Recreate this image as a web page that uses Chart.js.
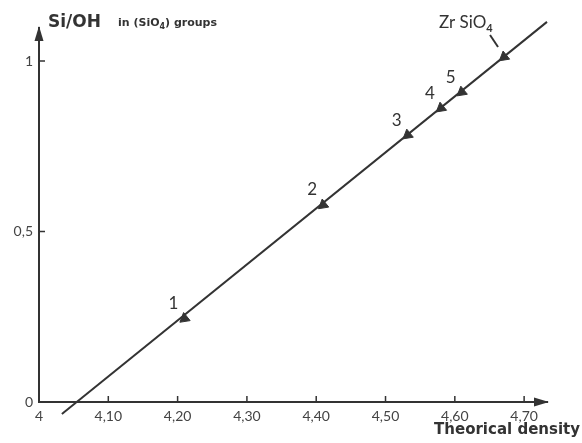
<!DOCTYPE html>
<html>
<head>
<meta charset="utf-8">
<script src="https://cdn.jsdelivr.net/npm/chart.js@4.4.1/dist/chart.umd.min.js"></script>
<style>
  html, body { margin: 0; padding: 0; background: #fff; }
  #wrap { width: 582px; height: 443px; }
</style>
</head>
<body>
<div id="wrap"><canvas id="myChart" width="582" height="443"></canvas></div>
<script>
// values
const densities = [4.21, 4.41, 4.532, 4.58, 4.61, 4.671];
const ratios = [0.245, 0.578, 0.783, 0.862, 0.909, 1.012];
const pointLabels = ['1', '2', '3', '4', '5', 'Zr SiO4'];

// straight line drawn through the samples
const lineX = [4.033, 4.733];
const lineY = [-0.035, 1.115];

const xTickValues = [4, 4.1, 4.2, 4.3, 4.4, 4.5, 4.6, 4.7];
const xTickLabels = ['4', '4,10', '4,20', '4,30', '4,40', '4,50', '4,60', '4,70'];
const yTickValues = [0, 0.5, 1];
const yTickLabels = ['0', '0,5', '1'];

const ink = '#333';
const font = 'Lato, "DejaVu Sans", sans-serif';
const titleFont = '"DejaVu Sans", sans-serif';

const decor = {
  id: 'decor',
  afterDraw(chart) {
    const { ctx, chartArea, scales } = chart;
    const x = scales.x, y = scales.y;
    const x0 = x.getPixelForValue(4), y0 = y.getPixelForValue(0);
    ctx.save();
    ctx.fillStyle = ink;
    ctx.strokeStyle = ink;
    ctx.lineWidth = 1.5;

    // arrow heads on the axes
    ctx.beginPath();
    ctx.moveTo(x0, chartArea.top - 2);
    ctx.lineTo(x0 - 4.5, chartArea.top + 13);
    ctx.lineTo(x0 + 4.5, chartArea.top + 13);
    ctx.closePath();
    ctx.fill();
    ctx.beginPath();
    ctx.moveTo(chartArea.right + 2, y0);
    ctx.lineTo(chartArea.right - 13, y0 - 4.5);
    ctx.lineTo(chartArea.right - 13, y0 + 4.5);
    ctx.closePath();
    ctx.fill();

    // inward tick marks
    ctx.beginPath();
    xTickValues.slice(1).forEach(v => {
      const px = x.getPixelForValue(v);
      ctx.moveTo(px, y0);
      ctx.lineTo(px, y0 - 6);
    });
    yTickValues.slice(1).forEach(v => {
      const py = y.getPixelForValue(v);
      ctx.moveTo(x0, py);
      ctx.lineTo(x0 + 6, py);
    });
    ctx.stroke();

    // axis titles
    ctx.textBaseline = 'alphabetic';
    ctx.textAlign = 'left';
    ctx.font = 'bold 17px ' + titleFont;
    ctx.fillText('Si/OH', 48, 27);
    ctx.font = 'bold 11px ' + titleFont;
    let tx = 118;
    ctx.fillText('in (SiO', tx, 26);
    tx += ctx.measureText('in (SiO').width;
    ctx.font = 'bold 8px ' + titleFont;
    ctx.fillText('4', tx, 29);
    tx += ctx.measureText('4').width;
    ctx.font = 'bold 11px ' + titleFont;
    ctx.fillText(') groups', tx, 26);

    ctx.textAlign = 'right';
    ctx.font = 'bold 15px ' + titleFont;
    ctx.fillText('Theorical density', 580, 434);

    // labels next to the samples
    const meta = chart.getDatasetMeta(1);
    ctx.textAlign = 'center';
    ctx.textBaseline = 'middle';
    meta.data.forEach((pt, i) => {
      if (i < 5) {
        ctx.font = '17px ' + font;
        ctx.fillText(pointLabels[i], pt.x - 11, pt.y - 15);
      } else {
        ctx.textAlign = 'left';
        ctx.textBaseline = 'alphabetic';
        ctx.font = '17px ' + font;
        let lx = pt.x - 65;
        const ly = pt.y - 29;
        ctx.fillText('Zr SiO', lx, ly);
        lx += ctx.measureText('Zr SiO').width;
        ctx.font = 'bold 11px ' + font;
        ctx.fillText('4', lx, ly + 4);
        ctx.lineWidth = 2;
        ctx.beginPath();
        ctx.moveTo(pt.x - 14, pt.y - 22);
        ctx.lineTo(pt.x - 6, pt.y - 10);
        ctx.stroke();
      }
    });
    ctx.restore();
  }
};

const ctx = document.getElementById('myChart').getContext('2d');
const chart = new Chart(ctx, {
  type: 'scatter',
  data: {
    datasets: [
      {
        data: lineX.map((v, i) => ({ x: v, y: lineY[i] })),
        showLine: true,
        borderColor: ink,
        borderWidth: 2,
        pointRadius: 0,
        clip: false
      },
      {
        data: densities.map((v, i) => ({ x: v, y: ratios[i] })),
        pointStyle: 'triangle',
        pointRotation: 231,
        pointRadius: 6,
        backgroundColor: ink,
        borderColor: ink,
        borderWidth: 1,
        clip: false
      }
    ]
  },
  options: {
    responsive: false,
    animation: false,
    events: [],
    layout: { padding: { left: 0, right: 35, top: 28, bottom: 0 } },
    plugins: { legend: { display: false }, tooltip: { enabled: false } },
    scales: {
      x: {
        type: 'linear',
        min: 4,
        max: 4.733,
        afterBuildTicks: s => { s.ticks = xTickValues.map(v => ({ value: v })); },
        afterFit: s => { s.height = 41; },
        grid: { display: true, drawOnChartArea: false, drawTicks: false },
        border: { display: true, color: ink, width: 2 },
        ticks: {
          padding: 6,
          color: '#444',
          font: { family: font, size: 14 },
          callback: (v, i) => xTickLabels[i]
        }
      },
      y: {
        type: 'linear',
        min: 0,
        max: 1.097,
        afterBuildTicks: s => { s.ticks = yTickValues.map(v => ({ value: v })); },
        afterFit: s => { s.width = 39; },
        grid: { display: true, drawOnChartArea: false, drawTicks: false },
        border: { display: true, color: ink, width: 2 },
        ticks: {
          padding: 6,
          color: '#444',
          font: { family: font, size: 14 },
          callback: (v, i) => yTickLabels[i]
        }
      }
    }
  },
  plugins: [decor]
});
</script>
</body>
</html>
